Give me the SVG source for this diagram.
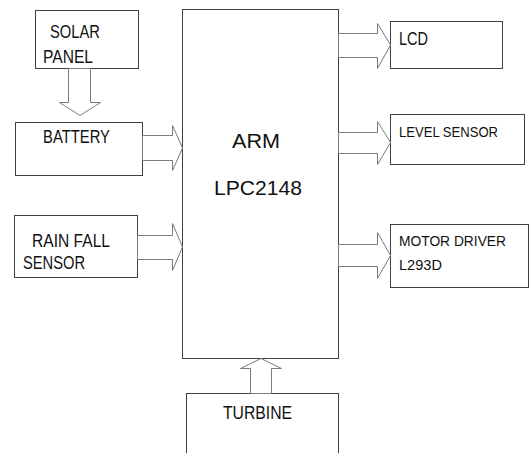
<svg xmlns="http://www.w3.org/2000/svg" width="530" height="453" viewBox="0 0 530 453">
<style>
.box{fill:#fff;stroke:#404040;stroke-width:1}
.arr{fill:#fff;stroke:#7a7a7a;stroke-width:1}
text{font-family:"Liberation Sans",Arial,sans-serif;fill:#111}
.s{font-size:17.5px}
.m{font-size:15.5px}
.big{font-size:21px}
</style>
<rect width="530" height="453" fill="#fff"/>
<g id="arm"><rect class="box" x="182.5" y="9.5" width="156" height="349"/>
<text class="big" x="232" y="148" textLength="48" lengthAdjust="spacingAndGlyphs">ARM</text>
<text class="big" x="214" y="195" textLength="88" lengthAdjust="spacingAndGlyphs">LPC2148</text></g>
<g id="solar"><rect class="box" x="35.5" y="10.5" width="103" height="58"/>
<text class="s" x="50" y="38" textLength="50" lengthAdjust="spacingAndGlyphs">SOLAR</text>
<text class="s" x="43" y="63" textLength="50" lengthAdjust="spacingAndGlyphs">PANEL</text></g>
<g id="battery"><rect class="box" x="15.5" y="122.5" width="127" height="53"/>
<text class="s" x="43" y="143" textLength="67" lengthAdjust="spacingAndGlyphs">BATTERY</text></g>
<g id="rain"><rect class="box" x="14.5" y="215.5" width="123" height="62"/>
<text class="s" x="32" y="247" textLength="78" lengthAdjust="spacingAndGlyphs">RAIN FALL</text>
<text class="s" x="23" y="269" textLength="62" lengthAdjust="spacingAndGlyphs">SENSOR</text></g>
<g id="lcd"><rect class="box" x="390.5" y="21.5" width="112" height="47"/>
<text class="s" x="399" y="45" textLength="29" lengthAdjust="spacingAndGlyphs">LCD</text></g>
<g id="level"><rect class="box" x="390.5" y="114.5" width="134" height="50"/>
<text class="m" x="399" y="137" textLength="99" lengthAdjust="spacingAndGlyphs">LEVEL SENSOR</text></g>
<g id="motor"><rect class="box" x="390.5" y="224.5" width="138" height="63"/>
<text class="m" x="399" y="246" textLength="107" lengthAdjust="spacingAndGlyphs">MOTOR DRIVER</text>
<text class="m" x="399" y="270" textLength="43" lengthAdjust="spacingAndGlyphs">L293D</text></g>
<g id="turbine"><rect class="box" x="186.5" y="393.5" width="152" height="70"/>
<text class="s" x="223" y="419" textLength="69" lengthAdjust="spacingAndGlyphs">TURBINE</text></g>
<g id="connectors">
<polygon class="arr" points="68.5,68.5 68.5,102.5 59.5,102.5 80,115.5 100.5,102.5 90.5,102.5 90.5,68.5"/>
<polygon class="arr" points="142.5,135.5 172.5,135.5 172.5,125.5 182.5,148 172.5,170.5 172.5,160.5 142.5,160.5"/>
<polygon class="arr" points="137.5,235.5 172.5,235.5 172.5,223.5 182.5,247 172.5,270.5 172.5,259.5 137.5,259.5"/>
<polygon class="arr" points="338.5,33.5 377.5,33.5 377.5,23.5 390.5,45 377.5,68.5 377.5,57.5 338.5,57.5"/>
<polygon class="arr" points="338.5,132.5 377.5,132.5 377.5,121.5 390.5,142.5 377.5,164.5 377.5,153.5 338.5,153.5"/>
<polygon class="arr" points="338.5,244.5 377.5,244.5 377.5,232.5 390.5,255.5 377.5,278.5 377.5,266.5 338.5,266.5"/>
<polygon class="arr" points="250.5,393.5 250.5,368.5 240.5,368.5 261,358.5 281.5,368.5 271.5,368.5 271.5,393.5"/>
</g>
</svg>
